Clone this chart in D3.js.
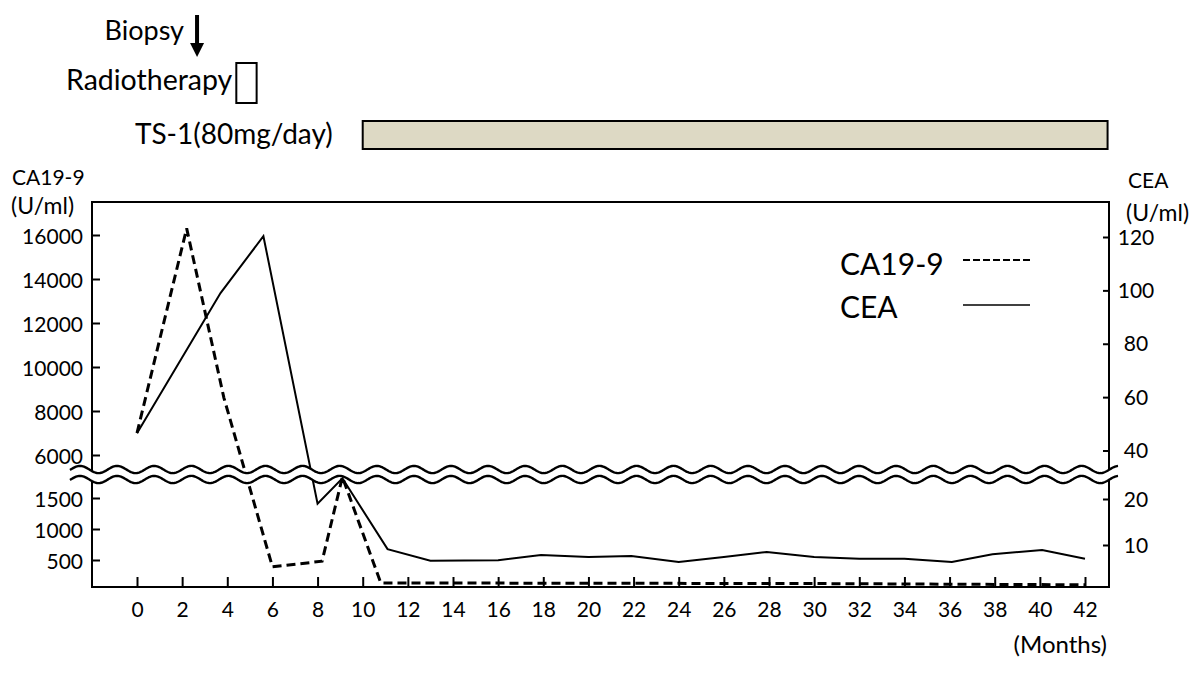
<!DOCTYPE html>
<html>
<head>
<meta charset="utf-8">
<script src="https://cdn.jsdelivr.net/npm/d3@7"></script>
<style>
  html, body { margin: 0; padding: 0; background: #fff; }
  svg { display: block; }
  text { font-family: Lato, "Open Sans", sans-serif; fill: #000; }
</style>
</head>
<body>
<svg id="chart" width="1200" height="673"></svg>
<script>
// ---------------- data ----------------
const caMonths  = [0, 2.2, 3.85, 6.0, 8.2, 9.1, 10.8, 20, 30, 42];
const caValues  = [7000, 16300, 8600, 390, 480, 1840, 130, 125, 120, 100];

const ceaMonths = [0, 3.7, 5.6, 8.0, 9.1, 11.1, 13.0, 16.0, 17.9, 20.0, 21.9, 24.0, 26.0, 27.9, 30.0, 32.0, 34.0, 36.1, 37.9, 40.1, 42.0];
const ceaValues = [46.5, 99, 120.3, 19, 24.5, 9.1, 6.6, 6.7, 7.8, 7.4, 7.6, 6.3, 7.4, 8.5, 7.4, 7.0, 7.0, 6.3, 8.0, 8.9, 7.0];

const monthTicks     = [0, 2, 4, 6, 8, 10, 12, 14, 16, 18, 20, 22, 24, 26, 28, 30, 32, 34, 36, 38, 40, 42];
const caUpperTicks   = [6000, 8000, 10000, 12000, 14000, 16000];
const caLowerTicks   = [500, 1000, 1500];
const ceaUpperTicks  = [40, 60, 80, 100, 120];
const ceaLowerTicks  = [10, 20];

const seriesNames    = ["CA19-9", "CEA"];
const biopsyMonth    = 2.66;
const radioStart     = 4.4, radioEnd = 5.3;
const ts1Start       = 10.0, ts1End = 43.0;

// ---------------- layout ----------------
const svg = d3.select("#chart");
svg.append("rect").attr("width", 1200).attr("height", 673).attr("fill", "#fff");

const frameL = 92, frameR = 1109, frameT = 202, frameB = 587;

const x = d3.scaleLinear().domain([0, 42]).range([137, 1085]);

const yCAup  = d3.scaleLinear().domain([6000, 16000]).range([455, 235]);
const yCAlo  = d3.scaleLinear().domain([0, 1500]).range([591, 498]);
const yCEAup = d3.scaleLinear().domain([40, 120]).range([450.5, 237]);
const yCEAlo = d3.scaleLinear().domain([0, 20]).range([591, 499]);
const yCA  = v => v >= 3000 ? yCAup(v) : yCAlo(v);
const yCEA = v => v >= 30 ? yCEAup(v) : yCEAlo(v);

// frame
const frame = svg.append("g").attr("stroke", "#000").attr("stroke-width", 2).attr("fill", "none");
frame.append("line").attr("x1", frameL).attr("x2", frameR).attr("y1", frameT).attr("y2", frameT);
frame.append("line").attr("x1", frameL).attr("x2", frameL).attr("y1", frameT - 1).attr("y2", frameB + 1);
frame.append("line").attr("x1", frameR).attr("x2", frameR).attr("y1", frameT - 1).attr("y2", frameB + 1);
frame.append("line").attr("x1", frameL - 1).attr("x2", frameR + 1).attr("y1", frameB).attr("y2", frameB);

function styleAxis(g) {
  g.select(".domain").remove();
  g.selectAll(".tick line").attr("stroke", "#000").attr("stroke-width", 2);
  g.selectAll(".tick text").style("font-family", "Lato, 'Open Sans', sans-serif").attr("fill", "#000");
}

// left axis (CA19-9)
[[yCAup, caUpperTicks], [yCAlo, caLowerTicks]].forEach(([sc, ticks]) => {
  const g = svg.append("g").attr("transform", `translate(${frameL},0)`)
    .call(d3.axisLeft(sc).tickValues(ticks).tickSize(-8).tickPadding(9).tickFormat(d3.format("d")));
  styleAxis(g);
  g.selectAll(".tick text").attr("font-size", 21).attr("dy", "0.42em");
});

// right axis (CEA)
[[yCEAup, ceaUpperTicks], [yCEAlo, ceaLowerTicks]].forEach(([sc, ticks]) => {
  const g = svg.append("g").attr("transform", `translate(${frameR},0)`)
    .call(d3.axisRight(sc).tickValues(ticks).tickSize(-6).tickPadding(27).tickFormat(d3.format("d")));
  styleAxis(g);
  g.selectAll(".tick text").attr("font-size", 21).attr("dy", "0.34em").attr("text-anchor", "middle");
});

// bottom axis
{
  const g = svg.append("g").attr("transform", `translate(0,${frameB})`)
    .call(d3.axisBottom(x).tickValues(monthTicks).tickSize(-10).tickPadding(15).tickFormat(d3.format("d")));
  styleAxis(g);
  g.selectAll(".tick text").attr("font-size", 21).attr("dy", "0.71em");
}

// axis titles
svg.append("text").attr("x", 12).attr("y", 185).attr("font-size", 21).text("CA19-9");
svg.append("text").attr("x", 11).attr("y", 214).attr("font-size", 23).text("(U/ml)");
svg.append("text").attr("x", 1128).attr("y", 188).attr("font-size", 21).text("CEA");
svg.append("text").attr("x", 1126).attr("y", 221).attr("font-size", 23).text("(U/ml)");
svg.append("text").attr("x", 1107).attr("y", 653).attr("font-size", 24).attr("text-anchor", "end").text("(Months)");

// data lines
const caData  = caMonths.map((m, i) => [m, caValues[i]]);
const ceaData = ceaMonths.map((m, i) => [m, ceaValues[i]]);

svg.append("path")
  .attr("d", d3.line().x(d => x(d[0])).y(d => yCEA(d[1]))(ceaData))
  .attr("fill", "none").attr("stroke", "#000").attr("stroke-width", 2).attr("stroke-linejoin", "miter");

svg.append("path")
  .attr("d", d3.line().x(d => x(d[0])).y(d => yCA(d[1]))(caData))
  .attr("fill", "none").attr("stroke", "#000").attr("stroke-width", 3).attr("stroke-dasharray", "9,5");

// axis break (two wavy lines)
const waveX0 = 70, waveX1 = 1118, waveLen = 37.1, waveAmp = 3.6, wavePhase = 80;
const waveXs = d3.range(waveX0, waveX1 + 0.5, 1);
const waveY = (xx, c) => c - waveAmp * Math.cos(2 * Math.PI * (xx - wavePhase) / waveLen);
const upper = waveXs.map(xx => [xx, waveY(xx, 469.5)]);
const lower = waveXs.map(xx => [xx, waveY(xx, 479.5)]);
svg.append("path")
  .attr("d", d3.line()(upper.concat(lower.slice().reverse())) + "Z")
  .attr("fill", "#fff").attr("stroke", "none");
[upper, lower].forEach(pts => {
  svg.append("path").attr("d", d3.line()(pts))
    .attr("fill", "none").attr("stroke", "#000").attr("stroke-width", 2.4);
});

// legend
svg.append("text").attr("x", 840).attr("y", 275).attr("font-size", 30).text(seriesNames[0]);
svg.append("text").attr("x", 840).attr("y", 318).attr("font-size", 30).text(seriesNames[1]);
svg.append("line").attr("x1", 963).attr("x2", 1031).attr("y1", 260).attr("y2", 260)
  .attr("stroke", "#000").attr("stroke-width", 2).attr("stroke-dasharray", "7,3");
svg.append("line").attr("x1", 963).attr("x2", 1030).attr("y1", 305).attr("y2", 305)
  .attr("stroke", "#000").attr("stroke-width", 1.6);

// treatments
const bx = x(biopsyMonth);
svg.append("line").attr("x1", bx).attr("x2", bx).attr("y1", 15).attr("y2", 46)
  .attr("stroke", "#000").attr("stroke-width", 4);
svg.append("path").attr("d", `M${bx - 7},43 L${bx + 7},43 L${bx},57 Z`).attr("fill", "#000");
svg.append("text").attr("x", bx - 13).attr("y", 40).attr("font-size", 27).attr("text-anchor", "end").text("Biopsy");

svg.append("rect").attr("x", x(radioStart)).attr("y", 63)
  .attr("width", x(radioEnd) - x(radioStart)).attr("height", 40)
  .attr("fill", "#fff").attr("stroke", "#000").attr("stroke-width", 2);
svg.append("text").attr("x", x(radioStart) - 4).attr("y", 90).attr("font-size", 28.5).attr("text-anchor", "end").text("Radiotherapy");

svg.append("rect").attr("x", x(ts1Start)).attr("y", 121)
  .attr("width", x(ts1End) - x(ts1Start)).attr("height", 28)
  .attr("fill", "#ddd9c4").attr("stroke", "#000").attr("stroke-width", 2);
svg.append("text").attr("x", x(ts1Start) - 30).attr("y", 144).attr("font-size", 28).attr("text-anchor", "end").text("TS-1(80mg/day)");
</script>
</body>
</html>
